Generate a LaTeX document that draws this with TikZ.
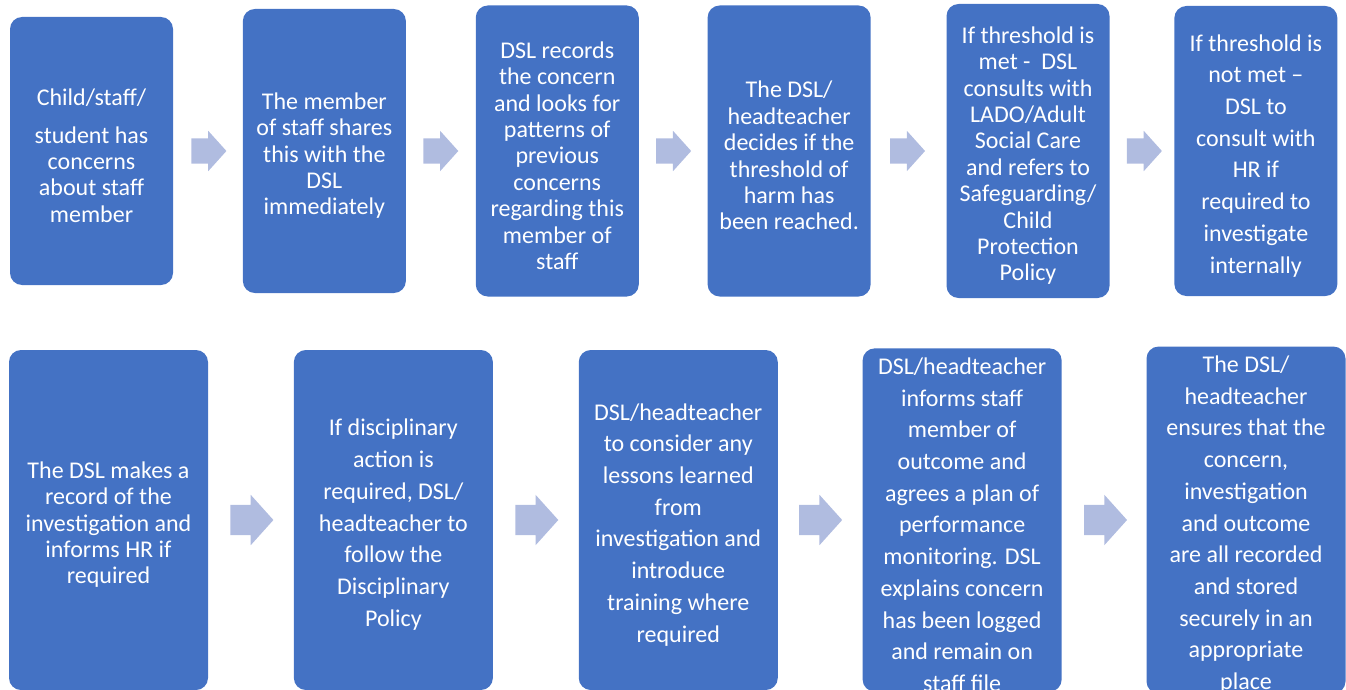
\documentclass[tikz,border=0pt]{standalone}
\usepackage{fontspec}
\setmainfont{Carlito}
\usepackage{tikz}
\usetikzlibrary{positioning, shapes.arrows}
\usepackage{xcolor}
\definecolor{boxblue}{HTML}{4472C4}
\definecolor{arrowblue}{HTML}{B0BCE0}
\newcommand{\topgap}{\rule{0pt}{26pt}}
\tikzset{%
	stage box/.style={
		rectangle,
		rounded corners=12pt,
		fill=boxblue,
		text=white,
		align=center,
		inner sep=0pt,
		minimum width=163pt,
		font=\fontsize{24}{26.4}\selectfont
	},
	wide box/.style={
		stage box,
		minimum width=199pt,
		minimum height=340pt
	},
	loose lines/.style={
		font=\fontsize{24}{31.7}\selectfont
	},
	stage arrow/.style={
		single arrow,
		fill=arrowblue,
		inner xsep=0pt,
		inner ysep=12.5pt,
		minimum width=0pt,
		single arrow tip angle=96,
		single arrow head extend=7.5pt,
		minimum height=35pt
	},
	wide arrow/.style={
		stage arrow,
		inner ysep=15pt,
		single arrow head extend=10pt,
		minimum height=43pt
	},
}
\begin{document}
\begin{tikzpicture}
			\useasboundingbox (0,0) rectangle (1346pt,-690pt);
			
			% Top row: first steps, left to right
			\node[stage box, minimum height=268pt] (t1) at (91.5pt,-151pt) {\topgap Child/staff/\\[11pt]student has\\concerns\\about staff\\member};
			\node[stage arrow] (a1) [right=18pt of t1] {};
			\node[stage box, minimum height=284pt] (t2) [right=16pt of a1] {\topgap The member\\of staff shares\\this with the\\DSL\\immediately};
			\node[stage arrow] (a2) [right=17pt of t2] {};
			\node[stage box, minimum height=291pt] (t3) [right=17pt of a2] {\topgap DSL records\\the concern\\and looks for\\patterns of\\previous\\concerns\\regarding this\\member of\\staff};
			\node[stage arrow] (a3) [right=17pt of t3] {};
			\node[stage box, minimum height=291pt] (t4) [right=16pt of a3] {\topgap The DSL/\\headteacher\\decides if the\\threshold of\\harm has\\been reached.};
			\node[stage arrow] (a4) [right=19pt of t4] {};
			\node[stage box, minimum height=294pt] (t5) [right=21pt of a4] {\topgap If threshold is\\met -\ \ DSL\\consults with\\LADO/Adult\\Social Care\\and refers to\\Safeguarding/\\Child\\Protection\\Policy};
			\node[stage arrow] (a5) [right=17pt of t5] {};
			\node[stage box, loose lines, minimum height=290pt] (t6) [right=12pt of a5] {\topgap If threshold is\\not met –\\DSL to\\consult with\\HR if\\required to\\investigate\\internally};
			
			% Bottom row: what follows
			\node[wide box] (b1) at (108.5pt,-520pt) {\topgap The DSL makes a\\record of the\\investigation and\\informs HR if\\required};
			\node[wide arrow] (a6) [right=22pt of b1] {};
			\node[wide box, loose lines] (b2) [right=20pt of a6] {\topgap If disciplinary\\action is\\required, DSL/\\headteacher to\\follow the\\Disciplinary\\Policy};
			\node[wide arrow] (a7) [right=22pt of b2] {};
			\node[wide box, loose lines] (b3) [right=20pt of a7] {\topgap DSL/headteacher\\to consider any\\lessons learned\\from\\investigation and\\introduce\\training where\\required};
			\node[wide arrow] (a8) [right=21pt of b3] {};
			\node[wide box, loose lines] (b4) [right=20pt of a8] {\topgap DSL/headteacher\\informs staff\\member of\\outcome and\\agrees a plan of\\performance\\monitoring. DSL\\explains concern\\has been logged\\and remain on\\staff file};
			\node[wide arrow] (a9) [right=22pt of b4] {};
			\node[wide box, loose lines] (b5) [right=19pt of a9] {\topgap The DSL/\\headteacher\\ensures that the\\concern,\\investigation\\and outcome\\are all recorded\\and stored\\securely in an\\appropriate\\place};
		\end{tikzpicture}
\end{document}
